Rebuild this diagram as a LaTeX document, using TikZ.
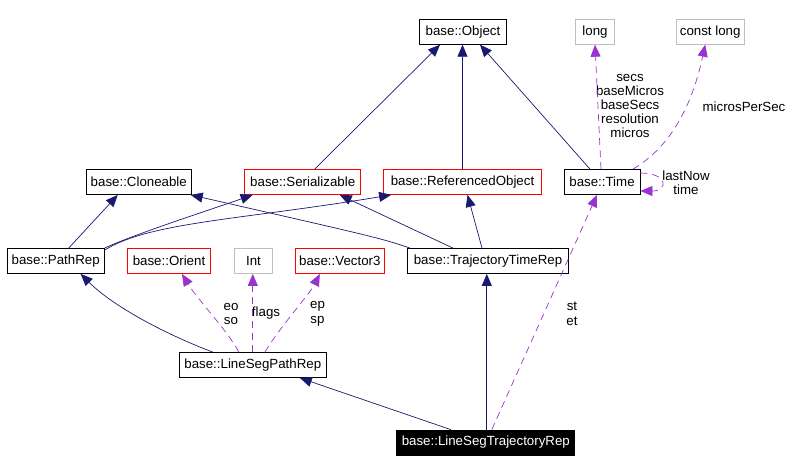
\documentclass[tikz,border=0pt]{standalone}
\usepackage{fontspec}
\setmainfont{Liberation Sans}
\usetikzlibrary{arrows.meta}
\definecolor{navy}{HTML}{191970}
\definecolor{purp}{HTML}{9A32CD}
\definecolor{grayb}{HTML}{BFBFBF}
\newcommand{\dfont}{\fontsize{13.3}{14.2}\selectfont}
\begin{document}
\begin{tikzpicture}[x=1pt,y=-1pt,
  box/.style={draw=black, line width=0.8pt, inner sep=0pt, minimum height=25pt, font=\dfont},
  redbox/.style={box, draw=red},
  graybox/.style={box, draw=grayb},
  inh/.style={draw=navy, line width=0.7pt, -{Triangle[length=12pt,width=10pt]}},
  use/.style={draw=purp, line width=0.7pt, dash pattern=on 7pt off 5pt, -{Triangle[length=12pt,width=10pt]}},
  lbl/.style={font=\dfont, align=center, inner sep=0pt}]
\useasboundingbox (0,0) rectangle (799,472);
% nodes
\node[box, minimum width=87pt] (obj) at (463,31.8) {base::Object};
\node[graybox, minimum width=39pt] (long) at (595,31.8) {long};
\node[graybox, minimum width=68pt] (clong) at (710.2,31.8) {const long};
\node[box, minimum width=105pt] (clone) at (138.8,182) {base::Cloneable};
\node[redbox, minimum width=116pt] (ser) at (302.7,182) {base::Serializable};
\node[redbox, minimum width=158pt] (ref) at (462.5,182) {base::ReferencedObject};
\node[box, minimum width=76pt] (time) at (602,182) {base::Time};
\node[box, minimum width=97pt] (path) at (55.7,261) {base::PathRep};
\node[redbox, minimum width=83pt] (orient) at (169,261) {base::Orient};
\node[graybox, minimum width=38pt] (int) at (253.5,261) {Int};
\node[redbox, minimum width=89pt] (vec) at (339.8,261) {base::Vector3};
\node[box, minimum width=161pt] (ttr) at (488,261) {base::TrajectoryTimeRep};
\node[box, minimum width=147pt] (lsp) at (252.8,365) {base::LineSegPathRep};
\node[box, fill=black, text=white, minimum width=178pt] (lst) at (485.8,442.5) {base::LineSegTrajectoryRep};
% labels
\node[lbl] (l1) at (630,106) {secs\\baseMicros\\baseSecs\\resolution\\micros};
\node[lbl] (l2) at (744,106.5) {microsPerSec};
\node[lbl] (l3) at (686,183) {lastNow\\time};
\node[lbl] (l4) at (231,313.7) {eo\\so};
\node[lbl] (l5) at (266,313) {flags};
\node[lbl] (l6) at (317.5,313.7) {ep\\sp};
\node[lbl] (l7) at (572,313.7) {st\\et};
% inheritance edges
\draw[inh] ([xshift=13]path.north) -- ([xshift=-21]clone.south);
\draw[inh] (path.north east) .. controls +(30,-14) and +(-40,14) .. ([xshift=-50]ser.south);
\draw[inh] ([yshift=-2]path.north east) .. controls (150,222) and (240,220) .. ([xshift=8]ref.south west);
\draw[inh] ([xshift=3]ttr.north west) .. controls (380,238) .. ([xshift=-1]clone.south east);
\draw[inh] ([xshift=-35]ttr.north) -- ([xshift=37]ser.south);
\draw[inh] ([xshift=-6]ttr.north) -- ([xshift=5]ref.south);
\draw[inh] ([xshift=12]ser.north) -- ([xshift=-23]obj.south);
\draw[inh] (ref.north) -- (ref.north |- obj.south);
\draw[inh] ([xshift=-12]time.north) -- ([xshift=17]obj.south);
\draw[inh] ([xshift=1]lst.north) -- ([xshift=1]lst.north |- ttr.south);
\draw[inh] ([xshift=-35]lst.north) -- ([xshift=47]lsp.south);
\draw[inh] ([xshift=-40]lsp.north) .. controls +(-40,-15) and +(35,35) .. ([xshift=25]path.south);
% usage edges
\draw[use] ([xshift=-1]time.north) -- (long.south);
\draw[use] ([xshift=31]time.north) .. controls (665,150) and (690,115) .. ([xshift=-5]clong.south);
\draw[use] ([yshift=9]time.east) .. controls +(28,0) and +(28,0) .. ([yshift=-9]time.east);
\draw[use] ([xshift=6]lst.north) -- ([xshift=-5]time.south);
\draw[use] ([xshift=-14]lsp.north) .. controls +(-10,-20) and +(15,25) .. ([xshift=13]orient.south);
\draw[use] (lsp.north) -- (lsp.north |- int.south);
\draw[use] ([xshift=12]lsp.north) .. controls +(15,-25) and +(-10,20) .. ([xshift=-20]vec.south);
\end{tikzpicture}
\end{document}
